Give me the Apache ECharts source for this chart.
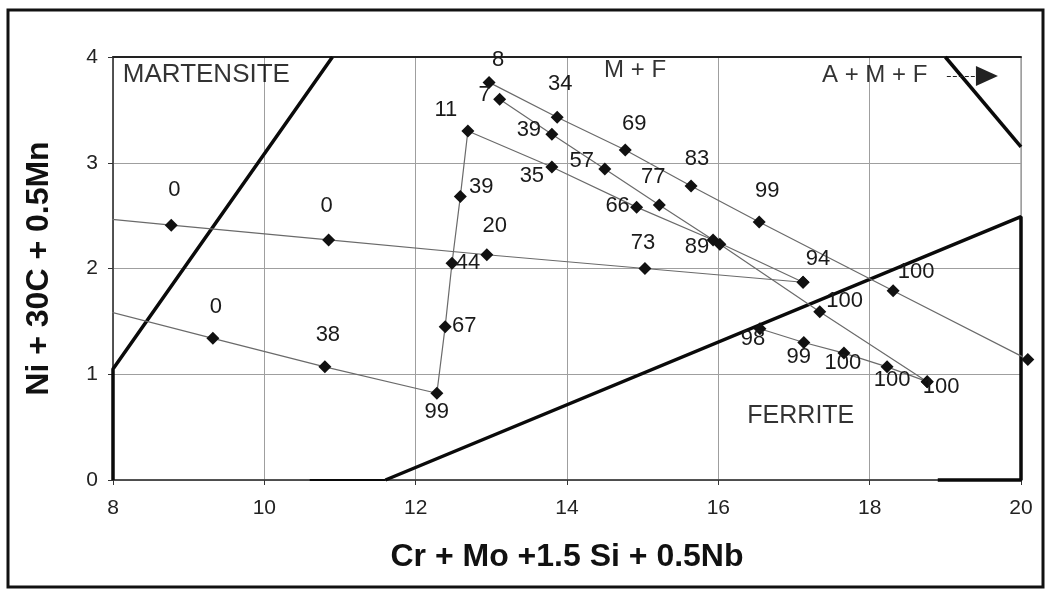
<!DOCTYPE html>
<html>
<head>
<meta charset="utf-8">
<script src="https://cdn.jsdelivr.net/npm/echarts@6/dist/echarts.min.js"></script>
<style>
  html, body { margin: 0; padding: 0; background: #fff; }
  #chart { width: 1049px; height: 591px; }
</style>
</head>
<body>
<div id="chart"></div>
<script>
// ---- Axis ranges and ticks ----
const xRange = [8, 20];
const yRange = [0, 4];
const xStep = 2;
const yStep = 1;

// ---- Composition paths (x = Cr eq., y = Ni eq.), labels = % ferrite ----
const upperX = [7.9, 8.77, 10.85, 12.94, 15.03, 17.12];
const upperY = [2.47, 2.41, 2.27, 2.13, 2.00, 1.87];
const upperLabels = ['', '0', '0', '20', '73', '94'];

const bentX = [7.9, 9.32, 10.80, 12.28, 12.39, 12.48, 12.59, 12.69, 13.80, 14.92, 15.93, 17.12];
const bentY = [1.60, 1.34, 1.07, 0.82, 1.45, 2.05, 2.68, 3.30, 2.96, 2.58, 2.27, 1.87];
const bentLabels = ['', '0', '38', '99', '67', '44', '39', '11', '35', '66', '89', ''];

const topX = [12.97, 13.87, 14.77, 15.64, 16.54, 18.31, 20.09];
const topY = [3.76, 3.43, 3.12, 2.78, 2.44, 1.79, 1.14];
const topLabels = ['8', '34', '69', '83', '99', '100', ''];

const midX = [13.11, 13.80, 14.50, 15.22, 16.02, 17.34, 18.76];
const midY = [3.60, 3.27, 2.94, 2.60, 2.23, 1.59, 0.93];
const midLabels = ['7', '39', '57', '77', '', '100', '100'];

const lowX = [16.55, 17.13, 17.66, 18.23, 18.76];
const lowY = [1.43, 1.30, 1.20, 1.07, 0.93];
const lowLabels = ['98', '99', '100', '100', ''];

// ---- Phase boundaries ----
const martX = [8, 8, 10.9];
const martY = [0, 1.05, 4];
const ferrX = [11.6, 20, 20, 18.9];
const ferrY = [0, 2.49, 0, 0];
const ferrFootX = [10.6, 11.6];
const ferrFootY = [0, 0];
const amfX = [19.0, 20];
const amfY = [4, 3.15];

// ---- Region names ----
const regionNames = ['MARTENSITE', 'M + F', 'A + M + F', 'FERRITE'];
const regionX = [8.13, 14.90, 17.37, 17.09];
const regionY = [3.83, 3.87, 3.83, 0.60];
const arrowFrom = [19.02, 3.82];
const arrowTo = [19.55, 3.82];

// ---- Label placement (pixel offsets from each marker) ----
const upperOffsets = [null, [3, -35], [-2, -34], [8, -29], [-2, -26], [15, -23]];
const bentOffsets = [null, [3, -31], [3, -32], [0, 19], [19, -1], [16, 0], [21, -10], [-22, -21], [-20, 9], [-19, -1], [-16, 7], null];
const topOffsets = [[9, -22], [3, -33], [9, -26], [6, -27], [8, -31], [23, -19], null];
const midOffsets = [[-15, -4], [-23, -4], [-23, -8], [-6, -28], null, [25, -11], [14, 5]];
const lowOffsets = [[-7, 10], [-5, 14], [-1, 10], [5, 13], null];
const regionAlign = ['left', 'center', 'left', 'center'];
const regionFont = [26, 24, 24, 25];

const FONT = '"Liberation Sans", Arial, sans-serif';

function pathData(xs, ys, labels, offsets) {
  return xs.map((x, i) => {
    const item = { name: labels[i], value: [x, ys[i]] };
    if (i === 0 && x < xRange[0]) item.symbol = 'none';
    if (labels[i] === '') item.label = { show: false };
    else item.label = { offset: offsets[i] };
    return item;
  });
}

function pathSeries(xs, ys, labels, offsets) {
  return {
    type: 'line',
    clip: false,
    symbol: 'diamond',
    symbolSize: 13,
    showAllSymbol: true,
    itemStyle: { color: '#111' },
    lineStyle: { color: '#6a6a6a', width: 1.2 },
    label: {
      show: true, position: 'inside', formatter: '{b}',
      fontFamily: FONT, fontSize: 22, color: '#1a1a1a', textBorderWidth: 0
    },
    z: 5,
    data: pathData(xs, ys, labels, offsets)
  };
}

function boundary(xs, ys, width, extra) {
  return Object.assign({
    type: 'line',
    symbol: 'none',
    silent: true,
    clip: false,
    lineStyle: { color: '#0a0a0a', width: width },
    z: 4,
    data: xs.map((x, i) => [x, ys[i]])
  }, extra || {});
}

const chart = echarts.init(document.getElementById('chart'), null, { renderer: 'canvas' });

chart.setOption({
  animation: false,
  backgroundColor: '#fff',
  grid: { left: 113, right: 28, top: 57, bottom: 111, show: true, borderColor: '#777', borderWidth: 1 },
  xAxis: [{
    type: 'value', min: xRange[0], max: xRange[1], interval: xStep,
    name: 'Cr + Mo +1.5 Si + 0.5Nb', nameLocation: 'middle', nameGap: 61,
    nameTextStyle: { fontFamily: FONT, fontSize: 32, fontWeight: 'bold', color: '#111' },
    axisLine: { show: true, lineStyle: { color: '#333', width: 1.5 } },
    axisTick: { show: true, length: 5, lineStyle: { color: '#333' } },
    axisLabel: { fontFamily: FONT, fontSize: 21, color: '#222', margin: 18 },
    splitLine: { show: true, lineStyle: { color: '#9f9f9f', width: 1 } }
  }, {
    type: 'value', min: xRange[0], max: xRange[1], interval: xStep, position: 'top',
    axisLine: { show: true, lineStyle: { color: '#222', width: 2 } },
    axisTick: { show: false }, axisLabel: { show: false }, splitLine: { show: false }
  }],
  yAxis: {
    type: 'value', min: yRange[0], max: yRange[1], interval: yStep,
    name: 'Ni + 30C + 0.5Mn', nameLocation: 'middle', nameGap: 58,
    nameTextStyle: { fontFamily: FONT, fontSize: 32, fontWeight: 'bold', color: '#111' },
    axisLine: { show: true, lineStyle: { color: '#333', width: 1.5 } },
    axisTick: { show: true, length: 5, lineStyle: { color: '#333' } },
    axisLabel: { fontFamily: FONT, fontSize: 21, color: '#222', margin: 15 },
    splitLine: { show: true, lineStyle: { color: '#9f9f9f', width: 1 } }
  },
  graphic: [{
    type: 'rect', silent: true, z: 100,
    shape: { x: 8, y: 10, width: 1035, height: 577 },
    style: { fill: 'none', stroke: '#111', lineWidth: 3 }
  }],
  series: [
    boundary(martX, martY, 3.5),
    boundary(ferrX, ferrY, 3.5),
    boundary(ferrFootX, ferrFootY, 2),
    boundary(amfX, amfY, 3.5, {
      markLine: {
        silent: true,
        symbol: ['none', 'triangle'],
        symbolSize: [20, 22],
        lineStyle: { type: 'dashed', color: '#222', width: 1 },
        label: { show: false },
        data: [[{ coord: arrowFrom }, { coord: arrowTo }]]
      }
    }),
    pathSeries(upperX, upperY, upperLabels, upperOffsets),
    pathSeries(bentX, bentY, bentLabels, bentOffsets),
    pathSeries(topX, topY, topLabels, topOffsets),
    pathSeries(midX, midY, midLabels, midOffsets),
    pathSeries(lowX, lowY, lowLabels, lowOffsets),
    {
      type: 'scatter',
      silent: true,
      symbolSize: 0,
      z: 6,
      itemStyle: { color: '#000' },
      label: {
        show: true, position: 'inside', formatter: '{b}', fontFamily: FONT,
        color: '#000', textBorderWidth: 0
      },
      data: regionNames.map((n, i) => ({
        name: n, value: [regionX[i], regionY[i]],
        label: { align: regionAlign[i], fontSize: regionFont[i] }
      }))
    }
  ]
});
</script>
</body>
</html>
